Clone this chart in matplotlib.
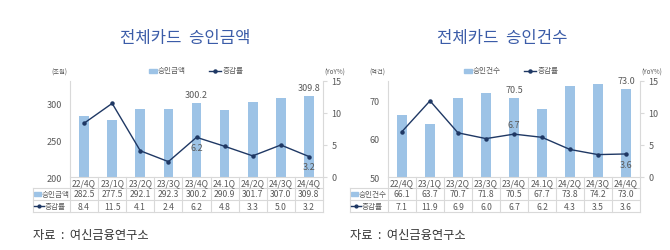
import matplotlib
matplotlib.use("Agg")
import matplotlib.pyplot as plt
from matplotlib.lines import Line2D
from matplotlib.patches import Rectangle
import matplotlib.transforms as mtrans

plt.rcParams['font.family'] = ['Noto Sans CJK KR', 'DejaVu Sans']

categories = ["22/4Q", "23/1Q", "23/2Q", "23/3Q", "23/4Q", "24.1Q", "24/2Q", "24/3Q", "24/4Q"]

amount_values = [282.5, 277.5, 292.1, 292.3, 300.2, 290.9, 301.7, 307.0, 309.8]
amount_rates = [8.4, 11.5, 4.1, 2.4, 6.2, 4.8, 3.3, 5.0, 3.2]
amount_rate_labels = ["8.4", "11.5", "4.1", "2.4", "6.2", "4.8", "3.3", "5.0", "3.2"]

count_values = [66.1, 63.7, 70.7, 71.8, 70.5, 67.7, 73.8, 74.2, 73.0]
count_rates = [7.1, 11.9, 6.9, 6.0, 6.7, 6.2, 4.3, 3.5, 3.6]
count_rate_labels = ["7.1", "11.9", "6.9", "6.0", "6.7", "6.2", "4.3", "3.5", "3.6"]

W, H = 670, 251
BAR_C = '#9DC3E6'
LINE_C = '#1F3864'
GRID_C = '#D9D9D9'
TXT_C = '#595959'
TITLE_C = '#3B5CA8'

fig = plt.figure(figsize=(W / 100, H / 100), dpi=100)


def fx(x):
    return x / W


def fy(y):
    return 1 - y / H


def panel(ax_left, ax_right, title, title_x, bar_name, values, rates, rate_labels,
          ylim, yticks, unit, table_left, bar_label_idx, rate_label_pos, leg_x):
    top, bottom = 82, 178
    ax = fig.add_axes([fx(ax_left), fy(bottom), fx(ax_right - ax_left), (bottom - top) / H])
    ax2 = ax.twinx()
    x = list(range(len(categories)))
    ax.bar(x, values, width=0.34, color=BAR_C, zorder=2)
    ax.set_xlim(-0.5, len(categories) - 0.5)
    ax.set_ylim(*ylim)
    ax.set_yticks(yticks)
    ax.set_xticks([])
    ax2.plot(x, rates, color=LINE_C, lw=1.0, marker='o', markersize=2.2, zorder=3)
    ax2.set_ylim(0, 15)
    ax2.set_yticks([0, 5, 10, 15])
    for a in (ax, ax2):
        for s in a.spines.values():
            s.set_visible(False)
        a.patch.set_visible(False)
    ax.spines['left'].set_visible(True)
    ax.spines['left'].set_color(GRID_C)
    ax2.spines['right'].set_visible(True)
    ax2.spines['right'].set_color(GRID_C)
    ax.tick_params(axis='y', length=0, labelsize=6.5, labelcolor=TXT_C, pad=6)
    ax2.tick_params(axis='y', length=3, color=GRID_C, labelsize=6.5, labelcolor=TXT_C, pad=3)

    # data labels
    for i in bar_label_idx:
        ax.annotate(f"{values[i]:.1f}", (i, values[i]), xytext=(0, 3), textcoords='offset points',
                    ha='center', va='bottom', fontsize=6.5, color=TXT_C)
    for i, pos in rate_label_pos:
        off = 4 if pos == 'above' else -4
        ax2.annotate(rate_labels[i], (i, rates[i]), xytext=(0, off), textcoords='offset points',
                     ha='center', va='bottom' if pos == 'above' else 'top', fontsize=6.5, color=TXT_C)

    # title
    fig.text(fx(title_x), fy(38), title, ha='center', va='center', fontsize=12, color=TITLE_C)

    # unit labels
    fig.text(fx(ax_left - 3), fy(73), unit, ha='right', va='center', fontsize=4.5, color=TXT_C)
    fig.text(fx(ax_right + 12), fy(73), "(YoY%)", ha='center', va='center', fontsize=4.5, color=TXT_C)

    # legend
    fig.add_artist(Rectangle((fx(leg_x), fy(73.5)), fx(8), 4 / H, color=BAR_C, transform=fig.transFigure))
    fig.text(fx(leg_x + 9), fy(71.5), bar_name, ha='left', va='center', fontsize=5.5, color=TXT_C)
    fig.add_artist(Line2D([fx(leg_x + 60), fx(leg_x + 72)], [fy(71.5), fy(71.5)], color=LINE_C, lw=1.0,
                          transform=fig.transFigure))
    fig.add_artist(Line2D([fx(leg_x + 66)], [fy(71.5)], color=LINE_C, marker='o', markersize=2.2,
                          transform=fig.transFigure))
    fig.text(fx(leg_x + 74), fy(71.5), "증감률", ha='left', va='center', fontsize=5.5, color=TXT_C)

    # table
    tr = mtrans.blended_transform_factory(ax.transData, fig.transFigure)
    rows = [178, 189, 201, 213]
    x_right = len(categories) - 0.5
    for j, r in enumerate(rows):
        if j == 0:
            fig.add_artist(Line2D([-0.5, x_right], [fy(r), fy(r)], color=GRID_C, lw=0.8, transform=tr))
        else:
            fig.add_artist(Line2D([fx(table_left), fx(ax_right)], [fy(r), fy(r)], color=GRID_C, lw=0.8,
                                  transform=fig.transFigure))
    for k in range(len(categories) + 1):
        fig.add_artist(Line2D([k - 0.5, k - 0.5], [fy(rows[0]), fy(rows[-1])], color=GRID_C, lw=0.8,
                              transform=tr))
    fig.add_artist(Line2D([fx(table_left), fx(table_left)], [fy(rows[1]), fy(rows[-1])], color=GRID_C, lw=0.8,
                          transform=fig.transFigure))
    for i, c in enumerate(categories):
        fig.text(i, fy((rows[0] + rows[1]) / 2), c, transform=tr, ha='center', va='center',
                 fontsize=6.2, color=TXT_C)
        fig.text(i, fy((rows[1] + rows[2]) / 2), f"{values[i]:.1f}", transform=tr, ha='center', va='center',
                 fontsize=6.2, color=TXT_C)
        fig.text(i, fy((rows[2] + rows[3]) / 2), rate_labels[i], transform=tr, ha='center', va='center',
                 fontsize=6.2, color=TXT_C)
    y1 = (rows[1] + rows[2]) / 2
    y2 = (rows[2] + rows[3]) / 2
    fig.add_artist(Rectangle((fx(table_left + 1), fy(y1 + 2)), fx(7), 4 / H, color=BAR_C,
                             transform=fig.transFigure))
    fig.text(fx(table_left + 9), fy(y1), bar_name, ha='left', va='center', fontsize=5.5, color=TXT_C)
    fig.add_artist(Line2D([fx(table_left + 1), fx(table_left + 11)], [fy(y2), fy(y2)], color=LINE_C, lw=1.0,
                          transform=fig.transFigure))
    fig.add_artist(Line2D([fx(table_left + 6)], [fy(y2)], color=LINE_C, marker='o', markersize=2.0,
                          transform=fig.transFigure))
    fig.text(fx(table_left + 12), fy(y2), "증감률", ha='left', va='center', fontsize=5.5, color=TXT_C)

    # source
    fig.text(fx(table_left), fy(236), "자료  :  여신금융연구소", ha='left', va='center', fontsize=8.8,
             color='#333333')
    return ax, ax2


panel(70, 323, "전체카드  승인금액", 185, "승인금액", amount_values, amount_rates, amount_rate_labels,
      (200, 330), [200, 250, 300], "(조원)", 33, [4, 8], [(4, 'below'), (8, 'below')], 149)
panel(388, 640, "전체카드  승인건수", 502, "승인건수", count_values, count_rates, count_rate_labels,
      (50, 75), [50, 60, 70], "(억건)", 350, [4, 8], [(4, 'above'), (8, 'below')], 464)

fig.savefig("out.png", dpi=100)
